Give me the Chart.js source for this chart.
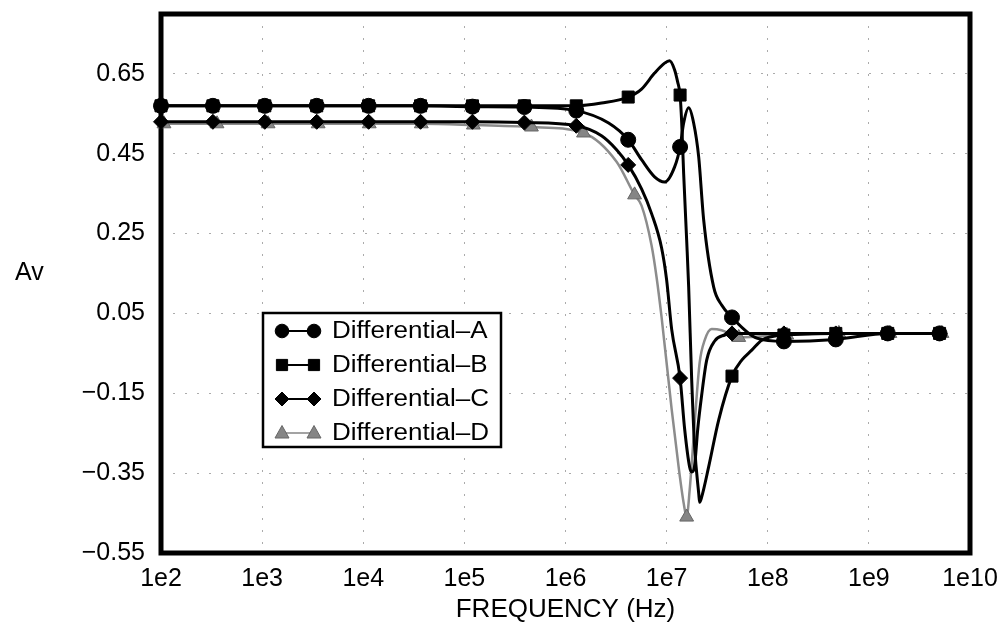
<!DOCTYPE html>
<html>
<head>
<meta charset="utf-8">
<script src="https://cdn.jsdelivr.net/npm/chart.js@4/dist/chart.umd.min.js"></script>
<style>
  html, body { margin: 0; padding: 0; background: #fff; }
  #wrap { width: 1005px; height: 629px; }
</style>
</head>
<body>
<div id="wrap"><canvas id="chart" width="1005" height="629"></canvas></div>
<script>
// ---- axes ----
const X_TICKS = [1e2, 1e3, 1e4, 1e5, 1e6, 1e7, 1e8, 1e9, 1e10];
const X_TICK_LABELS = ['1e2', '1e3', '1e4', '1e5', '1e6', '1e7', '1e8', '1e9', '1e10'];
const Y_TICKS = [-0.55, -0.35, -0.15, 0.05, 0.25, 0.45, 0.65];
const Y_MIN = -0.55;
const Y_MAX = 0.80;
const X_TITLE = 'FREQUENCY (Hz)';
const Y_TITLE = 'Av';
const SERIES_NAMES = ['Differential\u2013A', 'Differential\u2013B', 'Differential\u2013C', 'Differential\u2013D'];

// ---- sampled gain (marker points) ----
const FREQ_ABC = [100, 326, 1063, 3467, 11300, 36860, 120200, 391700, 1278000, 4169000,
                  13590000, 44300000, 144500000, 471000000, 1537000000, 5000000000];
const A_MARK = [0.57, 0.57, 0.57, 0.57, 0.57, 0.57, 0.568, 0.567, 0.558, 0.485,
                0.467, 0.04, -0.02, -0.015, 0.0, 0.0];
const B_MARK = [0.57, 0.57, 0.57, 0.57, 0.57, 0.57, 0.57, 0.57, 0.57, 0.592,
                0.597, -0.107, -0.004, 0.0, 0.0, 0.0];
const C_MARK = [0.53, 0.53, 0.53, 0.53, 0.53, 0.53, 0.53, 0.528, 0.52, 0.422,
                -0.112, 0.0, 0.0, 0.0, 0.0, 0.0];
const FREQ_D = [107, 358, 1146, 3581, 11460, 37500, 122800, 460400, 1507000, 4820000,
                15780000, 51650000, 154200000, 505000000, 1614000000, 5280000000];
const D_MARK = [0.525, 0.525, 0.525, 0.525, 0.525, 0.525, 0.522, 0.517, 0.502, 0.347,
                -0.46, -0.01, -0.004, 0.0, 0.0, 0.0];

// ---- curve detail between markers (resonance region) ----
const A_CURVE_F = [2670000, 5650000, 7600000, 9550000, 12000000, 14740000, 16520000,
                   18500000, 20750000, 23250000, 29200000, 35000000, 77900000];
const A_CURVE_V = [0.527, 0.435, 0.392, 0.379, 0.417, 0.527, 0.565,
                   0.527, 0.442, 0.284, 0.116, 0.071, -0.012];
const B_CURVE_F = [2270000, 5650000, 7600000, 9550000, 10700000, 12000000, 12850000,
                   14100000, 14740000, 15780000, 16520000, 17700000, 18930000, 20750000,
                   21200000, 22200000, 26000000, 32700000, 55300000, 69500000, 87300000];
const B_CURVE_V = [0.577, 0.612, 0.652, 0.677, 0.683, 0.66, 0.63,
                   0.527, 0.40, 0.234, 0.116, -0.117, -0.285, -0.40,
                   -0.423, -0.41, -0.335, -0.217, -0.067, -0.042, -0.017];
const C_CURVE_F = [2270000, 3200000, 5650000, 7100000, 8920000, 10000000, 11220000,
                   15080000, 16900000, 17700000, 18930000, 20300000, 22200000, 24900000,
                   29900000, 37500000];
const C_CURVE_V = [0.495, 0.46, 0.362, 0.30, 0.214, 0.134, 0.01,
                   -0.24, -0.335, -0.347, -0.33, -0.24, -0.155, -0.067,
                   -0.019, -0.004];
const D_CURVE_F = [3200000, 5650000, 7100000, 7960000, 8920000, 11220000, 13150000,
                   14740000, 16900000, 18930000, 21200000, 23800000, 27900000, 35000000];
const D_CURVE_V = [0.43, 0.32, 0.22, 0.14, 0.04, -0.19, -0.335,
                   -0.425, -0.392, -0.225, -0.074, -0.017, 0.011, 0.008];

const FONT = '"Liberation Sans", Arial, Helvetica, sans-serif';
const GREY_LINE = '#8c8c8c';
const GREY_MARK = '#858585';

function buildSeries(mf, mv, cf, cv) {
  const pts = mf.map((f, i) => ({ x: f, y: mv[i], m: true }));
  cf.forEach((f, i) => pts.push({ x: f, y: cv[i], m: false }));
  return pts.sort((a, b) => a.x - b.x);
}

function dataset(label, data, style, radius, lineColor, markColor, markBorder, width) {
  return {
    label, data,
    borderColor: lineColor,
    backgroundColor: markColor,
    borderWidth: width,
    pointStyle: style,
    pointRadius: c => (c.raw && c.raw.m ? radius : 0),
    pointHoverRadius: c => (c.raw && c.raw.m ? radius : 0),
    pointBackgroundColor: markColor,
    pointBorderColor: markBorder,
    pointBorderWidth: 1,
    pointHitRadius: 0,
    cubicInterpolationMode: 'monotone',
    clip: false
  };
}

const fmtY = v => (v < -1e-9 ? '\u2212' : '') + Math.abs(v).toFixed(2);

// Marker glyphs for the legend box
function glyph(ctx, kind, x, y, fill, stroke) {
  ctx.save();
  ctx.fillStyle = fill;
  ctx.strokeStyle = stroke;
  ctx.lineWidth = 1;
  ctx.beginPath();
  if (kind === 'circle') {
    ctx.arc(x, y, 6.8, 0, Math.PI * 2);
  } else if (kind === 'rect') {
    ctx.rect(x - 5.6, y - 5.6, 11.2, 11.2);
  } else if (kind === 'rectRot') {
    ctx.moveTo(x - 7, y); ctx.lineTo(x, y - 7); ctx.lineTo(x + 7, y); ctx.lineTo(x, y + 7);
    ctx.closePath();
  } else {
    ctx.moveTo(x, y - 7.5); ctx.lineTo(x + 7, y + 5); ctx.lineTo(x - 7, y + 5);
    ctx.closePath();
  }
  ctx.fill();
  ctx.stroke();
  ctx.restore();
}

const LEGEND_ITEMS = [
  { kind: 'circle', line: '#000', fill: '#000', lw: 2 },
  { kind: 'rect', line: '#000', fill: '#000', lw: 2 },
  { kind: 'rectRot', line: '#000', fill: '#000', lw: 2 },
  { kind: 'triangle', line: GREY_LINE, fill: GREY_MARK, lw: 1.6 }
];

const framePlugin = {
  id: 'frameAndLegend',
  beforeDatasetsDraw(chart) {
    const { ctx, chartArea: a } = chart;
    ctx.save();
    ctx.strokeStyle = '#000';
    ctx.lineWidth = 5;
    ctx.strokeRect(a.left, a.top, a.right - a.left, a.bottom - a.top);
    ctx.restore();
  },
  afterDatasetsDraw(chart) {
    const { ctx, chartArea: a } = chart;
    // legend box
    const L = a.left + 102, T = a.top + 299, W = 238, H = 134;
    ctx.save();
    ctx.fillStyle = '#fff';
    ctx.fillRect(L, T, W, H);
    ctx.strokeStyle = '#000';
    ctx.lineWidth = 2.5;
    ctx.strokeRect(L, T, W, H);
    LEGEND_ITEMS.forEach((it, i) => {
      const y = T + 18 + i * 34;
      const x1 = L + 19, x2 = L + 51;
      ctx.strokeStyle = it.line;
      ctx.lineWidth = it.lw;
      ctx.beginPath();
      ctx.moveTo(x1, y); ctx.lineTo(x2, y);
      ctx.stroke();
      glyph(ctx, it.kind, x1, y, it.fill, it.kind === 'triangle' ? '#666' : '#000');
      glyph(ctx, it.kind, x2, y, it.fill, it.kind === 'triangle' ? '#666' : '#000');
      ctx.save();
      ctx.translate(L + 69, y + 1);
      ctx.scale(1.13, 1);
      ctx.fillStyle = '#000';
      ctx.font = '23px ' + FONT;
      ctx.textAlign = 'left';
      ctx.textBaseline = 'middle';
      ctx.fillText(SERIES_NAMES[i], 0, 0);
      ctx.restore();
    });
    // vertical-axis caption, written horizontally
    ctx.fillStyle = '#000';
    ctx.font = '25px ' + FONT;
    ctx.textAlign = 'left';
    ctx.textBaseline = 'middle';
    ctx.fillText(Y_TITLE, 15, a.top + 259);
    ctx.restore();
  }
};

const seriesA = buildSeries(FREQ_ABC, A_MARK, A_CURVE_F, A_CURVE_V);
const seriesB = buildSeries(FREQ_ABC, B_MARK, B_CURVE_F, B_CURVE_V);
const seriesC = buildSeries(FREQ_ABC, C_MARK, C_CURVE_F, C_CURVE_V);
const seriesD = buildSeries(FREQ_D, D_MARK, D_CURVE_F, D_CURVE_V);

Chart.defaults.font.family = FONT;
Chart.defaults.color = '#000';

new Chart(document.getElementById('chart'), {
  type: 'line',
  data: {
    datasets: [
      dataset(SERIES_NAMES[0], seriesA, 'circle', 7.5, '#000', '#000', '#000', 3),
      dataset(SERIES_NAMES[1], seriesB, 'rect', 8.5, '#000', '#000', '#000', 3),
      dataset(SERIES_NAMES[2], seriesC, 'rectRot', 7.5, '#000', '#000', '#000', 3),
      dataset(SERIES_NAMES[3], seriesD, 'triangle', 8, GREY_LINE, GREY_MARK, '#666', 2.5)
    ]
  },
  options: {
    responsive: false,
    animation: false,
    devicePixelRatio: 1,
    layout: { padding: { top: 14, right: 35, left: 0, bottom: 0 } },
    plugins: { legend: { display: false }, tooltip: { enabled: false } },
    scales: {
      x: {
        type: 'logarithmic',
        min: X_TICKS[0],
        max: X_TICKS[X_TICKS.length - 1],
        afterBuildTicks: s => { s.ticks = X_TICKS.map(v => ({ value: v })); },
        afterFit: s => { s.height = 76; s.paddingLeft = 0; s.paddingRight = 0; },
        ticks: {
          autoSkip: false, maxRotation: 0, minRotation: 0, padding: 11,
          color: '#000', font: { size: 25 },
          callback: (v, i) => X_TICK_LABELS[i]
        },
        grid: { color: '#ababab', lineWidth: 1, drawTicks: false, tickLength: 0 },
        border: { display: false, dash: [2, 10] },
        title: {
          display: true, text: X_TITLE, color: '#000',
          font: { size: 26 }, padding: { top: 0, bottom: 4 }
        }
      },
      y: {
        min: Y_MIN,
        max: Y_MAX,
        afterBuildTicks: s => { s.ticks = Y_TICKS.map(v => ({ value: v })); },
        afterFit: s => { s.width = 161; s.paddingTop = 0; s.paddingBottom = 0; },
        ticks: {
          padding: 16, color: '#000', font: { size: 25 },
          callback: v => fmtY(v)
        },
        grid: { color: '#ababab', lineWidth: 1, drawTicks: false, tickLength: 0 },
        border: { display: false, dash: [2, 10] }
      }
    }
  },
  plugins: [framePlugin]
});
</script>
</body>
</html>
